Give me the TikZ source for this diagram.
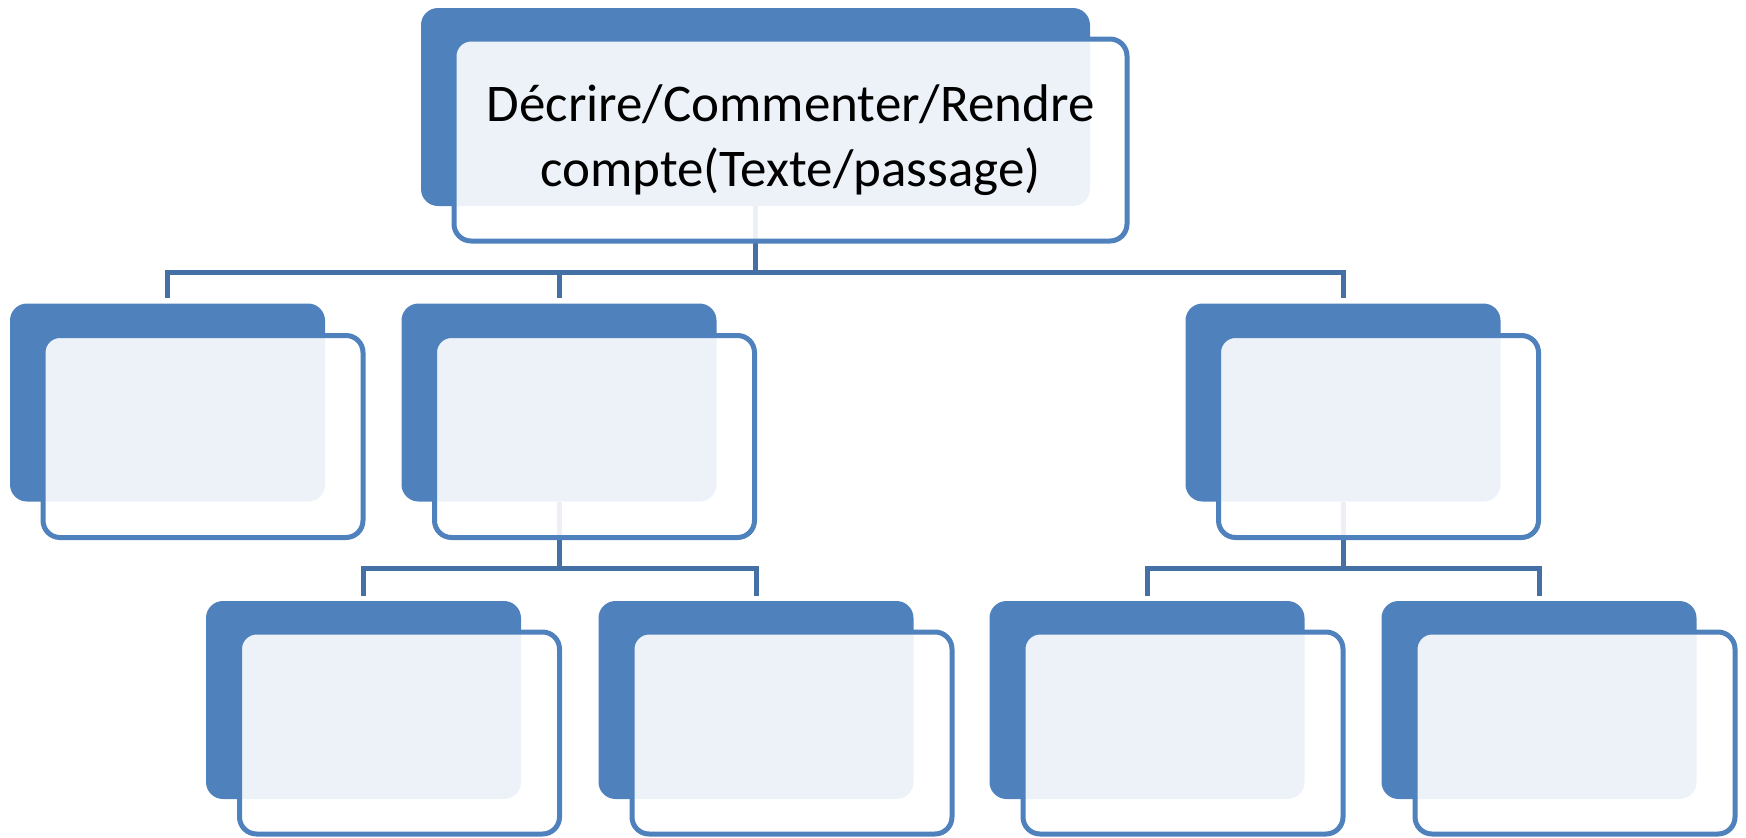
\documentclass[tikz,border=0pt]{standalone}
\usepackage{fontspec}
\setmainfont{Carlito}
\definecolor{accent}{HTML}{4F81BD}
\definecolor{linkc}{HTML}{4470A6}
\begin{document}
\begin{tikzpicture}[x=1pt,y=-1pt,
  back/.style={rectangle, rounded corners=17pt, fill=accent, inner sep=0pt,
    minimum width=315pt, minimum height=198pt},
  front/.style={rectangle, rounded corners=17pt, draw=accent, line width=5pt,
    fill=white, fill opacity=0.9, draw opacity=1, text opacity=1, inner sep=0pt,
    minimum width=320pt, minimum height=202pt},
  conn/.style={draw=linkc, line width=5pt}]
\useasboundingbox (0,0) rectangle (1746,838);
% back shapes
\node[back, minimum width=669pt] (t0) at (755.5,107) {};
\node[back] (a0) at (167.5,402.5) {};
\node[back] (b0) at (559,402.5) {};
\node[back] (c0) at (1343,402.5) {};
\node[back] (d0) at (363.5,700) {};
\node[back] (e0) at (756,700) {};
\node[back] (f0) at (1147,700) {};
\node[back] (g0) at (1539,700) {};
% connectors
\coordinate (h1) at (755.5,272);
\coordinate (h2) at (559,568);
\coordinate (h3) at (1343,568);
\draw[conn] (t0.south) -- (h1);
\draw[conn] ([yshift=5pt]a0.north) |- (h1) -| ([yshift=5pt]c0.north);
\draw[conn] (h1) -| ([yshift=5pt]b0.north);
\draw[conn] (b0.south) -- (h2);
\draw[conn] ([yshift=5pt]d0.north) |- (h2) -| ([yshift=5pt]e0.north);
\draw[conn] (c0.south) -- (h3);
\draw[conn] ([yshift=5pt]f0.north) |- (h3) -| ([yshift=5pt]g0.north);
% front shapes
\node[front, minimum width=673pt, align=center,
  font=\fontsize{53}{65}\selectfont] (t1) at (790.5,140)
  {Décrire/Commenter/Rendre\\compte(Texte/passage)};
\node[front] (a1) at (203,436.5) {};
\node[front] (b1) at (594.5,436.5) {};
\node[front] (c1) at (1378.5,436.5) {};
\node[front] (d1) at (399.5,733) {};
\node[front] (e1) at (792,733) {};
\node[front] (f1) at (1183,733) {};
\node[front] (g1) at (1575,733) {};
\end{tikzpicture}
\end{document}
